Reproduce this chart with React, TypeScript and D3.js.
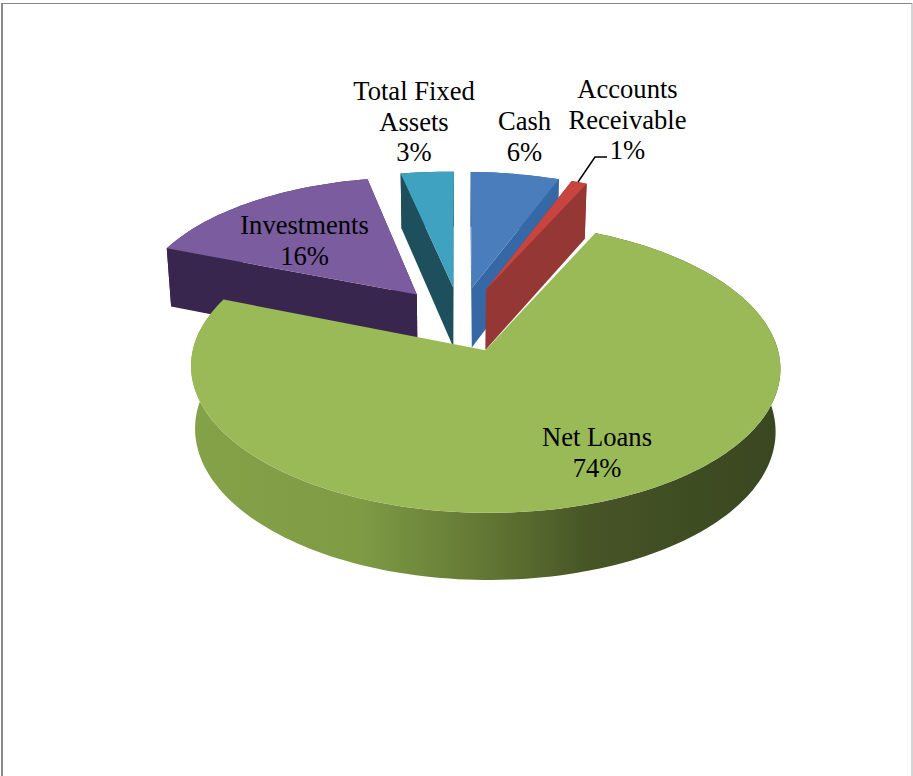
import React from "react";
import * as d3 from "d3";

// Asset mix, clockwise from twelve o'clock
const categories = ["Cash", "Accounts Receivable", "Net Loans", "Investments", "Total Fixed Assets"];
const shares = [6, 1, 74, 16, 3];
const topColors = ["#4a7dbb", "#c8443f", "#9aba58", "#7b5c9f", "#3fa2c0"];
const wallColors = ["#3768a6", "#953735", "#7d9a44", "#38264f", "#1d4f5c"];
const labelLines = [["Cash"], ["Accounts", "Receivable"], ["Net Loans"], ["Investments"], ["Total Fixed", "Assets"]];

const WIDTH = 913;
const HEIGHT = 776;
const FONT = "'Liberation Serif', 'Times New Roman', serif";

// Tilted-disc projection of the pie plane
const CX = 459.5;
const CY = 319;
const RX = 285;
const RY = 136;
const PERSPECTIVE = 0.116;
const EXPLODE = 0.24;
const TAU = Math.PI * 2;
// Slices pulled toward the back lean leftward as they recede, fading out at twelve o'clock
const LEFT_LEAN = 0.06;
const RIGHT_LEAN = 0.04;
const LEAN_FADE = 0.2;

type P = { x: number; y: number };

function project(u: number, v: number): P {
  const s = 1 / (1 - PERSPECTIVE * v);
  return { x: CX + RX * u * s, y: CY + RY * v * s };
}

// The floor of the disc sits below the top face, a little narrower and deeper toward the viewer
function drop(p: P, v: number): P {
  return { x: CX + (p.x - CX) * 0.985, y: p.y + 61 + 5 * v };
}

const line = d3.line<P>().x((d) => d.x).y((d) => d.y);
const pieLayout = d3.pie<number>().sort(null).startAngle(0).endAngle(TAU);

type Slice = {
  index: number;
  top: string;
  arcStrip: string;
  faces: string[];
};

const arcs = pieLayout(shares);

const slices: Slice[] = arcs.map((a, index) => {
  const mid = (a.startAngle + a.endAngle) / 2;
  const ou = EXPLODE * Math.sin(mid);
  const ov = -EXPLODE * Math.cos(mid);
  const angleScale = d3
    .scaleLinear()
    .domain([0, 1])
    .range([a.startAngle, a.endAngle]);
  const steps = Math.max(6, Math.round(((a.endAngle - a.startAngle) / TAU) * 240));
  const apex = project(ou, ov);
  const isBack = Math.cos(mid) > 0;
  const rim = d3.range(steps + 1).map((i) => {
    const t = angleScale(i / steps);
    const u = ou + Math.sin(t);
    const v = ov - Math.cos(t);
    const base = project(u, v);
    const fromTop = Math.min(t, TAU - t);
    const strength = isBack ? (t > Math.PI ? LEFT_LEAN : RIGHT_LEAN) * Math.min(1, fromTop / LEAN_FADE) : 0;
    return { p: { x: base.x + strength * (base.y - apex.y), y: base.y }, v };
  });
  const apexFloor = drop(apex, ov);
  const rimTop = rim.map((r) => r.p);
  const rimFloor = rim.map((r) => drop(r.p, r.v));
  const first = rim[0];
  const last = rim[rim.length - 1];
  const faceA = [apex, first.p, drop(first.p, first.v), apexFloor];
  const faceB = [apex, last.p, drop(last.p, last.v), apexFloor];
  const avg = (f: P[]) => d3.mean(f, (d) => d.y) as number;
  const ordered = avg(faceA) < avg(faceB) ? [faceA, faceB] : [faceB, faceA];
  return {
    index,
    top: (line([apex, ...rimTop]) as string) + "Z",
    arcStrip: (line([...rimTop, ...rimFloor.slice().reverse()]) as string) + "Z",
    faces: ordered.map((f) => (line(f) as string) + "Z"),
  };
});

// Back slices are painted first, the large front slice last
const paintOrder = [3, 4, 0, 1, 2];

// Centre x and first baseline for each slice's label
const labelAnchors: { x: number; y: number }[] = [
  { x: 524.5, y: 130 },
  { x: 627.5, y: 98 },
  { x: 597, y: 446 },
  { x: 304.5, y: 234 },
  { x: 414, y: 100 },
];
const LINE_HEIGHT = 30.7;

const leader = [
  { x: 578, y: 182 },
  { x: 595, y: 157 },
  { x: 607, y: 157 },
];

const sideStops: [number, string][] = [
  [0, "#84a248"],
  [0.28, "#7f9c45"],
  [0.52, "#5f7332"],
  [0.68, "#465426"],
  [1, "#394620"],
];

export default function App() {
  return (
    <svg
      width={WIDTH}
      height={HEIGHT}
      viewBox={`0 0 ${WIDTH} ${HEIGHT}`}
      style={{ position: "absolute", left: 0, top: 0, display: "block", background: "#fff" }}
    >
      <defs>
        <linearGradient id="loanSide" gradientUnits="userSpaceOnUse" x1={192} y1={0} x2={781} y2={0}>
          {sideStops.map(([o, c]) => (
            <stop key={o} offset={o} stopColor={c} />
          ))}
        </linearGradient>
      </defs>

      {/* chart frame */}
      <rect x={1} y={3} width={2} height={HEIGHT - 3} fill="#888" />
      <rect x={1} y={3} width={WIDTH - 2} height={1} fill="#888" />
      <rect x={911.5} y={3} width={1} height={HEIGHT - 3} fill="#aaa" />

      {paintOrder.map((i) => {
        const s = slices[i];
        const isLoans = categories[i] === "Net Loans";
        return (
          <g key={categories[i]}>
            <path d={s.arcStrip} fill={isLoans ? "url(#loanSide)" : wallColors[i]} />
            {!isLoans && s.faces.map((d, k) => <path key={k} d={d} fill={wallColors[i]} />)}
            <path d={s.top} fill={topColors[i]} />
          </g>
        );
      })}

      <path d={line(leader) as string} fill="none" stroke="#000" strokeWidth={1.5} />

      {categories.map((c, i) => {
        const rows = [...labelLines[i], `${shares[i]}%`];
        return (
          <text key={c} fontFamily={FONT} fontSize={26.6} fill="#000" textAnchor="middle">
            {rows.map((r, k) => (
              <tspan key={k} x={labelAnchors[i].x} y={labelAnchors[i].y + k * LINE_HEIGHT}>
                {r}
              </tspan>
            ))}
          </text>
        );
      })}
    </svg>
  );
}
